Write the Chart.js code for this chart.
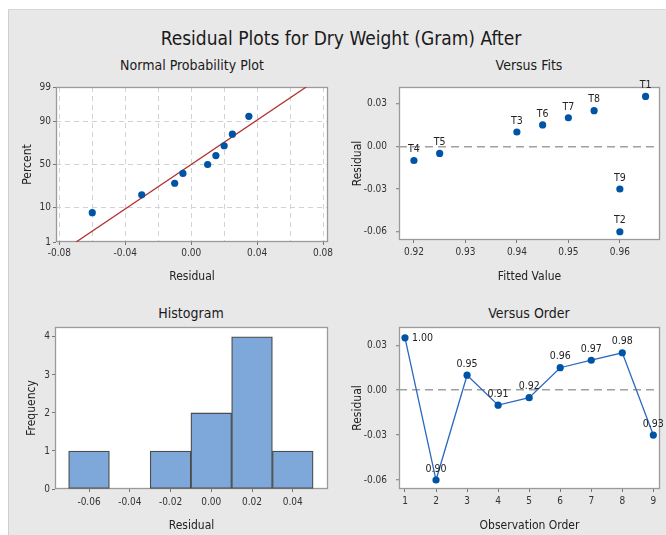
<!DOCTYPE html>
<html><head><meta charset="utf-8">
<script src="https://cdn.jsdelivr.net/npm/chart.js@4"></script>
<style>
html,body{margin:0;padding:0;background:#fff;}
#page{position:relative;width:666px;height:535px;overflow:hidden;background:#fff;}
#panel{position:absolute;left:8px;top:9px;width:658px;height:526px;background:#e8e8e8;border-left:1px solid #cfcfcf;border-top:1px solid #d6d6d6;box-sizing:border-box;}
.t{position:absolute;font-family:"DejaVu Sans Condensed","Liberation Sans Narrow",sans-serif;color:#1a1a1a;white-space:nowrap;transform:translate(-50%,-50%);}
canvas{position:absolute;}
</style>
</head><body>
<div id="page">
  <div id="panel"></div>
  <div class="t" style="left:341px;top:38px;font-size:19px;">Residual Plots for Dry Weight (Gram) After</div>
  <div class="t" style="left:192px;top:65px;font-size:14px;">Normal Probability Plot</div>
  <div class="t" style="left:529px;top:65px;font-size:14px;">Versus Fits</div>
  <div class="t" style="left:191px;top:313px;font-size:14px;">Histogram</div>
  <div class="t" style="left:529px;top:313px;font-size:14px;">Versus Order</div>
  <canvas id="cNorm" width="327" height="215" style="left:8px;top:75px;width:327px;height:215px;"></canvas>
  <canvas id="cFits" width="331" height="215" style="left:335px;top:75px;width:331px;height:215px;"></canvas>
  <canvas id="cHist" width="327" height="220" style="left:8px;top:315px;width:327px;height:220px;"></canvas>
  <canvas id="cOrder" width="331" height="220" style="left:335px;top:315px;width:331px;height:220px;"></canvas>
</div>
<script>
// ---------------- DATA ----------------
const obsOrder      = [1, 2, 3, 4, 5, 6, 7, 8, 9];
const fittedValues  = [0.965, 0.96, 0.94, 0.92, 0.925, 0.945, 0.95, 0.955, 0.96];
const residuals     = [0.035, -0.06, 0.01, -0.01, -0.005, 0.015, 0.02, 0.025, -0.03];
const fitLabels     = ['T1','T2','T3','T4','T5','T6','T7','T8','T9'];
const orderLabels   = ['1.00','0.90','0.95','0.91','0.92','0.96','0.97','0.98','0.93'];

const normResiduals = [-0.06, -0.03, -0.01, -0.005, 0.01, 0.015, 0.02, 0.025, 0.035];
const normPercent   = [7.4, 18.1, 28.7, 39.4, 50.0, 60.6, 71.3, 81.9, 92.6];
const fitLineX      = [-0.0698, 0.0698];
const fitLineP      = [1, 99];

const histBins      = [-0.06, -0.04, -0.02, 0.00, 0.02, 0.04];
const histFreq      = [1, 0, 1, 2, 4, 1];

const normXTicks    = [-0.08, -0.06, -0.04, -0.02, 0, 0.02, 0.04, 0.06, 0.08];
const probTicks     = [1, 10, 50, 90, 99];
const fitsXTicks    = [0.92, 0.93, 0.94, 0.95, 0.96];
const residTicks    = [-0.06, -0.03, 0, 0.03];
const histXTicks    = [-0.06, -0.04, -0.02, 0, 0.02, 0.04];
const freqTicks     = [0, 1, 2, 3, 4];

// ---------------- probability scale ----------------
function normInv(p){
  const a=[-3.969683028665376e+01,2.209460984245205e+02,-2.759285104469687e+02,1.383577518672690e+02,-3.066479806614716e+01,2.506628277459239e+00];
  const b=[-5.447609879822406e+01,1.615858368580409e+02,-1.556989798598866e+02,6.680131188771972e+01,-1.328068155288572e+01];
  const c=[-7.784894002430293e-03,-3.223964580411365e-01,-2.400758277161838e+00,-2.549732539343734e+00,4.374664141464968e+00,2.938163982698783e+00];
  const d=[7.784695709041462e-03,3.224671290700398e-01,2.445134137142996e+00,3.754408661907416e+00];
  const pl=0.02425, ph=1-pl; let q,r;
  if(p<pl){q=Math.sqrt(-2*Math.log(p));return (((((c[0]*q+c[1])*q+c[2])*q+c[3])*q+c[4])*q+c[5])/((((d[0]*q+d[1])*q+d[2])*q+d[3])*q+1);}
  if(p<=ph){q=p-0.5;r=q*q;return (((((a[0]*r+a[1])*r+a[2])*r+a[3])*r+a[4])*r+a[5])*q/(((((b[0]*r+b[1])*r+b[2])*r+b[3])*r+b[4])*r+1);}
  q=Math.sqrt(-2*Math.log(1-p));return -(((((c[0]*q+c[1])*q+c[2])*q+c[3])*q+c[4])*q+c[5])/((((d[0]*q+d[1])*q+d[2])*q+d[3])*q+1);
}
function normCdf(z){const t=1/(1+0.2316419*Math.abs(z));const y=t*(0.319381530+t*(-0.356563782+t*(1.781477937+t*(-1.821255978+t*1.330274429))));const v=1-Math.exp(-z*z/2)/Math.sqrt(2*Math.PI)*y;return z>=0?v:1-v;}
class ProbabilityScale extends Chart.LinearScale {
  getPixelForValue(value){
    const a=normInv(this.min/100), b=normInv(this.max/100);
    return this.getPixelForDecimal((normInv(value/100)-a)/(b-a));
  }
  getValueForPixel(pixel){
    const a=normInv(this.min/100), b=normInv(this.max/100);
    return normCdf(a+this.getDecimalForPixel(pixel)*(b-a))*100;
  }
}
ProbabilityScale.id='probability';
ProbabilityScale.defaults=Chart.LinearScale.defaults;
Chart.register(ProbabilityScale);

// ---------------- plugins ----------------
const FONT='"DejaVu Sans Condensed","Liberation Sans Narrow",sans-serif';
const frame={
  id:'frame',
  beforeDraw(chart){const {ctx,chartArea:a}=chart;ctx.save();ctx.fillStyle='#ffffff';ctx.fillRect(a.left,a.top,a.width,a.height);ctx.restore();},
  beforeDatasetsDraw(chart){const {ctx,chartArea:a}=chart;ctx.save();ctx.strokeStyle='#9a9a9a';ctx.lineWidth=1.3;ctx.strokeRect(Math.round(a.left)+0.5,Math.round(a.top)+0.5,Math.round(a.width)-1,Math.round(a.height)-1);ctx.restore();}
};
const pointLabels={
  id:'pointLabels',
  afterDatasetsDraw(chart,args,opts){
    const ctx=chart.ctx;
    chart.data.datasets.forEach((ds,i)=>{
      if(!ds.pointLabels) return;
      const meta=chart.getDatasetMeta(i);
      ctx.save();ctx.font='10.5px '+FONT;ctx.fillStyle='#222';ctx.textBaseline='middle';
      meta.data.forEach((el,j)=>{
        const right=(opts.right||[]).includes(j);
        if(right){ctx.textAlign='left';ctx.fillText(ds.pointLabels[j],el.x+7,el.y);}
        else{ctx.textAlign='center';ctx.fillText(ds.pointLabels[j],el.x,el.y-11);}
      });
      ctx.restore();
    });
  }
};

function fix2(v){return (Math.abs(v)<1e-9?0:v).toFixed(2);}
function setTicks(arr){return s=>{s.ticks=arr.map(v=>({value:v}));};}
function axis(o){
  return {
    type:o.type||'linear', min:o.min, max:o.max, offset:false,
    afterBuildTicks:setTicks(o.ticks),
    afterFit:s=>{
      if(s.isHorizontal()) s.height=o.size; else s.width=o.size;
      s.paddingTop=0;s.paddingBottom=0;s.paddingLeft=0;s.paddingRight=0;
    },
    border:{display:false,dash:o.dash||[]},
    grid:{
      offset:false,
      drawOnChartArea:!!o.gridColor,
      color:o.gridColor||'rgba(0,0,0,0)',
      tickLength:3, tickWidth:1,
      tickColor:o.tickColor||'#777', lineWidth:o.gridWidth||1
    },
    ticks:{
      autoSkip:false,maxRotation:0,minRotation:0,padding:o.pad,
      color:'#333',font:{family:FONT,size:10},
      callback:o.fmt||(v=>String(v))
    },
    title:{display:true,text:o.title,color:'#222',font:{family:FONT,size:12},padding:o.titlePad}
  };
}
function baseOpts(pad){
  return {responsive:false,animation:false,devicePixelRatio:1,
    layout:{padding:pad},
    plugins:{legend:{display:false},tooltip:{enabled:false}}};
}
const BLUE='#0054a6';

// ---------------- Normal probability plot ----------------
{
  const o=baseOpts({top:12,right:7,left:0,bottom:0});
  const isLab=v=>Math.abs(Math.round(v/0.04)*0.04-v)<1e-9;
  o.scales={
    x:axis({min:-0.082,max:0.083,ticks:normXTicks,size:48,pad:2,title:'Residual',titlePad:{bottom:6},
      fmt:v=>isLab(v)?fix2(v):'',dash:[5,4],
      gridColor:c=>(c.tick&&c.tick.value>-0.081&&c.tick.value<0.081)?'#d2d2d2':'rgba(0,0,0,0)',
      tickColor:c=>(c.tick&&isLab(c.tick.value))?'#777':'rgba(0,0,0,0)'}),
    y:axis({type:'probability',min:1,max:99,ticks:probTicks,size:48,pad:2,title:'Percent',titlePad:{top:13},dash:[5,4],
      gridColor:c=>(c.tick&&c.tick.value>1&&c.tick.value<99)?'#d2d2d2':'rgba(0,0,0,0)'})
  };
  new Chart(document.getElementById('cNorm'),{
    type:'scatter',
    data:{datasets:[
      {data:normResiduals.map((x,i)=>({x,y:normPercent[i]})),pointRadius:3.6,pointBackgroundColor:BLUE,pointBorderColor:BLUE,pointBorderWidth:0},
      {data:fitLineX.map((x,i)=>({x,y:fitLineP[i]})),showLine:true,pointRadius:0,borderColor:'#b3302c',borderWidth:1.3}
    ]},
    options:o,plugins:[frame]
  });
}

// ---------------- Versus Fits ----------------
{
  const o=baseOpts({top:12,right:6,left:0,bottom:0});
  o.scales={
    x:axis({min:0.9171,max:0.9678,ticks:fitsXTicks,size:50,pad:3,title:'Fitted Value',titlePad:{bottom:6},fmt:fix2}),
    y:axis({min:-0.0658,max:0.0416,ticks:residTicks,size:64,pad:9,title:'Residual',titlePad:{top:16},fmt:fix2,dash:[8,5],gridWidth:1.5,
      gridColor:c=>(c.tick&&Math.abs(c.tick.value)<1e-9)?'#a0a0a0':'rgba(0,0,0,0)'})
  };
  o.plugins.pointLabels={right:[]};
  new Chart(document.getElementById('cFits'),{
    type:'scatter',
    data:{datasets:[
      {data:fittedValues.map((x,i)=>({x,y:residuals[i]})),pointLabels:fitLabels,pointRadius:3.6,pointBackgroundColor:BLUE,pointBorderColor:BLUE,pointBorderWidth:0}
    ]},
    options:o,plugins:[frame,pointLabels]
  });
}

// ---------------- Histogram ----------------
{
  const o=baseOpts({top:12,right:7,left:0,bottom:0});
  o.scales={
    x:axis({min:-0.0767,max:0.0573,ticks:histXTicks,size:46,pad:4,title:'Residual',titlePad:{bottom:2},fmt:fix2}),
    y:axis({min:0,max:4.26,ticks:freqTicks,size:47,pad:2,title:'Frequency',titlePad:{top:17}})
  };
  new Chart(document.getElementById('cHist'),{
    type:'bar',
    data:{datasets:[
      {data:histBins.map((x,i)=>({x,y:histFreq[i]})),backgroundColor:'#7ea7da',borderColor:'#4d4d4d',borderWidth:1.3,borderSkipped:false,barPercentage:1,categoryPercentage:1}
    ]},
    options:o,plugins:[frame]
  });
}

// ---------------- Versus Order ----------------
{
  const o=baseOpts({top:12,right:6,left:0,bottom:0});
  o.scales={
    x:axis({min:0.807,max:9.215,ticks:obsOrder,size:46,pad:3,title:'Observation Order',titlePad:{bottom:2}}),
    y:axis({min:-0.066,max:0.0422,ticks:residTicks,size:64,pad:9,title:'Residual',titlePad:{top:16},fmt:fix2,dash:[8,5],gridWidth:1.5,
      gridColor:c=>(c.tick&&Math.abs(c.tick.value)<1e-9)?'#a0a0a0':'rgba(0,0,0,0)'})
  };
  o.plugins.pointLabels={right:[0]};
  new Chart(document.getElementById('cOrder'),{
    type:'line',
    data:{datasets:[
      {data:obsOrder.map((x,i)=>({x,y:residuals[i]})),pointLabels:orderLabels,borderColor:'#2c68c0',borderWidth:1.3,tension:0,
       pointRadius:3.6,pointBackgroundColor:BLUE,pointBorderColor:BLUE,pointBorderWidth:0,clip:false}
    ]},
    options:o,plugins:[frame,pointLabels]
  });
}
</script>
</body></html>
